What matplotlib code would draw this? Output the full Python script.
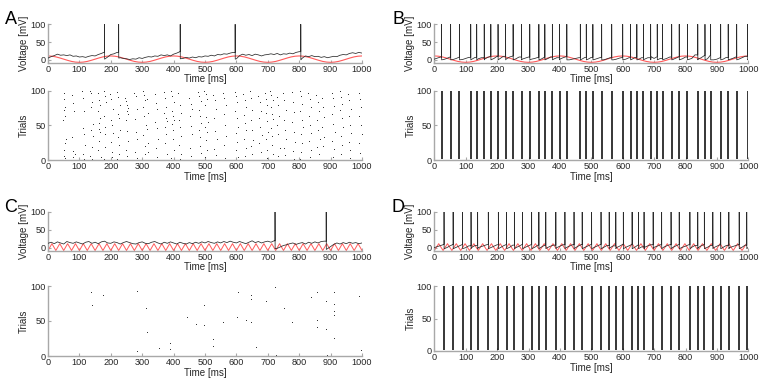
import numpy as np
import matplotlib
matplotlib.use("Agg")
import matplotlib.pyplot as plt

plt.rcParams['font.family'] = ['Liberation Sans', 'DejaVu Sans']

# ---------------- data ----------------
t_base = list(range(0, 1001, 10))          # ms, sampling of sub-threshold traces

A_v = [5, 9, 12, 16, 13, 14, 12, 14, 10, 11, 8, 9, 7, 10, 12, 11, 15, 18, 22, 8,
       15, 17, 21, 6, 4, 3, 1, 3, 2, 6, 4, 7, 9, 8, 11, 10, 14, 12, 14, 11,
       16, 19, 23, 4, 7, 5, 8, 6, 9, 8, 11, 10, 13, 11, 15, 14, 17, 16, 19, 21,
       3, 12, 16, 13, 15, 12, 16, 14, 11, 14, 15, 17, 15, 18, 14, 17, 16, 19, 17, 21,
       23, 5, 11, 9, 12, 9, 10, 7, 9, 6, 8, 10, 9, 13, 15, 14, 18, 20, 18, 21, 19]
A_spikes = [180, 225, 421, 596, 805]
A_reset = [2, 5, 3, 2, 0]

B_v = [2, 5, 8, 1, 4, 8, 1, 4, 8, 1, 4, 7, 2, 7, 3, 6, 2, 7, 10, 4,
       10, 4, 10, 3, 8, 11, 3, 8, 2, 5, 8, 2, 4, 7, 2, 7, 3, 8, 2, 6,
       2, 6, 9, 0, 2, 4, 6, 2, 7, 2, 7, 1, 4, 7, 0, 3, 6, 0, 2, 5,
       7, 2, 6, 2, 7, 1, 6, 2, 6, 9, 4, 9, 4, 1, 4, 8, 1, 5, 9, 3,
       8, 1, 4, 14, 2, 6, 12, 3, 14, 0, 2, 6, 2, 7, 1, 4, 8, 2, 6, 10, 3]
B_spikes = [23, 52, 80, 116, 135, 159, 180, 203, 227, 251, 278, 304, 333, 352, 376,
            399, 422, 465, 484, 505, 533, 565, 600, 625, 645, 666, 689, 710, 727,
            756, 780, 806, 839, 862, 880, 912, 936, 963, 998]

C_v = [12, 15, 11, 16, 13, 10, 17, 14, 12, 16, 13, 10, 15, 17, 12, 15, 11, 16, 18, 13,
       12, 16, 14, 10, 14, 17, 14, 11, 10, 14, 16, 12, 11, 15, 17, 13, 10, 15, 12, 16,
       13, 10, 15, 12, 10, 14, 11, 15, 12, 16, 13, 17, 14, 12, 16, 13, 17, 14, 18, 15,
       13, 17, 14, 11, 15, 19, 14, 17, 13, 16, 18, 15, 19, -2, 2, 6, 8, 11, 13, 9,
       12, 14, 10, 15, 12, 16, 13, 17, 18, -3, 3, 9, 13, 10, 14, 11, 15, 12, 14, 11, 13]
C_spikes = [723, 886]
C_reset = [-3, -5]

D_v = [0, 3, 6, 9, 0, 5, 9, 1, 5, 9, 0, 5, 1, 6, 0, 3, 6, 9, 0, 4,
       8, 0, 5, 9, 1, 7, 0, 4, 9, 1, 5, 9, 1, 7, 1, 6, 0, 4, 7, 0,
       4, 8, 0, 4, 8, 0, 5, 9, 1, 5, 9, 1, 5, 9, 1, 6, 0, 5, 0, 4,
       9, 1, 5, 9, 2, 8, 2, 1, 5, 8, 1, 4, 8, 1, 5, 8, 1, 5, 9, 1,
       4, 8, 1, 6, 0, 5, 9, 1, 6, 0, 4, 8, 1, 6, 0, 3, 6, 9, 1, 7, 1]
D_spikes = [31, 60, 90, 117, 138, 172, 204, 230, 255, 281, 310, 333, 355, 387, 416,
            445, 471, 501, 531, 557, 578, 602, 630, 650, 668, 697, 724, 754, 780,
            814, 839, 860, 887, 912, 938, 971, 995]

t_stim = [i * 12.5 for i in range(81)]      # ms, sampling of stimulus traces
stim_slow = [11, 10.3, 8.4, 5.4, 2, -1.4, -4.4, -6.3, -7, -6.3, -4.4, -1.4, 2, 5.4, 8.4, 10.3,
             11, 10.3, 8.4, 5.4, 2, -1.4, -4.4, -6.3, -7, -6.3, -4.4, -1.4, 2, 5.4, 8.4, 10.3,
             11, 10.3, 8.4, 5.4, 2, -1.4, -4.4, -6.3, -7, -6.3, -4.4, -1.4, 2, 5.4, 8.4, 10.3,
             11, 10.3, 8.4, 5.4, 2, -1.4, -4.4, -6.3, -7, -6.3, -4.4, -1.4, 2, 5.4, 8.4, 10.3,
             11, 10.3, 8.4, 5.4, 2, -1.4, -4.4, -6.3, -7, -6.3, -4.4, -1.4, 2, 5.4, 8.4, 10.3,
             11]
stim_fast = [-8, 11, -8, 11, -8, 11, -8, 11, -8, 11, -8, 11, -8, 11, -8, 11, -8, 11, -8, 11,
             -8, 11, -8, 11, -8, 11, -8, 11, -8, 11, -8, 11, -8, 11, -8, 11, -8, 11, -8, 11,
             -8, 11, -8, 11, -8, 11, -8, 11, -8, 11, -8, 11, -8, 11, -8, 11, -8, 11, -8, 11,
             -8, 11, -8, 11, -8, 11, -8, 11, -8, 11, -8, 11, -8, 11, -8, 11, -8, 11, -8, 11,
             -8]
t_stim_D = [i * 14 for i in range(72)]
stim_D = [-8, 11, -8, 11, -8, 11, -8, 11, -8, 11, -8, 11, -8, 11, -8, 11, -8, 11, -8, 11,
          -8, 11, -8, 11, -8, 11, -8, 11, -8, 11, -8, 11, -8, 11, -8, 11, -8, 11, -8, 11,
          -8, 11, -8, 11, -8, 11, -8, 11, -8, 11, -8, 11, -8, 11, -8, 11, -8, 11, -8, 11,
          -8, 11, -8, 11, -8, 11, -8, 11, -8, 11, -8, 11]

# raster A: spike times (ms) and trial numbers, grouped by column of the picture
A_rt = [
    50, 52, 55, 51, 54, 49, 56, 53, 52, 50, 55,
    76, 80, 83, 78, 81, 85, 79,
    108, 112, 116, 110, 114, 118, 111, 115,
    133, 137, 141, 138, 144, 136, 142, 139, 135, 140,
    158, 162, 165, 160, 167, 163, 161, 166, 164, 159, 168,
    177, 181, 184, 179, 183, 180, 182, 178,
    198, 202, 206, 200, 204, 207, 201, 205, 203,
    220, 224, 228, 222, 226, 230, 223, 227, 225, 221,
    246, 249, 252, 255, 250, 254, 248, 253, 256, 247, 251,
    275, 279, 283, 277, 281, 285, 278, 282,
    301, 305, 309, 303, 307, 311, 304, 308, 310,
    314, 318, 316, 320, 317,
    340, 344, 348, 342, 346, 350, 343, 347,
    369, 373, 377, 371, 375, 379, 372, 376, 374, 378,
    392, 396, 400, 394, 398, 402, 395, 399, 397, 401, 393,
    415, 419, 423, 417, 421, 425, 418, 422, 420,
    450, 454, 458, 452, 456, 460, 453, 457,
    478, 482, 486, 480, 484, 488, 481, 485, 483, 487,
    498, 502, 506, 500, 504, 508, 501, 505, 503, 507, 499,
    527, 531, 535, 529, 533, 537, 530, 534,
    558, 562, 566, 560, 564, 568, 561, 565,
    595, 599, 603, 597, 601, 605, 598, 602, 600, 604,
    622, 626, 630, 624, 628, 632, 625, 629, 627,
    643, 647, 651, 645, 649, 653, 646, 650,
    670, 674, 678, 672, 676, 680, 673, 677,
    691, 695, 699, 693, 697, 701, 694, 698, 696,
    707, 711, 715, 709, 713, 717, 710, 714, 712, 716,
    728, 732, 736, 730, 734, 738, 731,
    749, 753, 757, 751, 755, 759, 752, 756,
    776, 780, 784, 778, 782, 786, 779, 783,
    802, 806, 810, 804, 808, 812, 805, 809, 807, 803,
    829, 833, 837, 831, 835, 839, 832, 836, 834,
    855, 859, 863, 857, 861, 865, 858, 862,
    872, 876, 880, 874, 878, 875,
    903, 907, 911, 905, 909, 913, 906, 910, 908,
    929, 933, 937, 931, 935, 939, 932, 936, 934,
    956, 960, 964, 958, 962, 966, 959, 963, 961,
    990, 994, 998, 992, 996, 999, 991, 995]
A_rn = [
    96, 88, 77, 72, 63, 58, 31, 25, 14, 6, 3,
    94, 82, 70, 33, 13, 8, 4,
    99, 90, 71, 46, 38, 22, 9, 2,
    100, 96, 84, 76, 52, 43, 35, 19, 6, 1,
    97, 86, 79, 70, 60, 53, 45, 41, 27, 14, 5,
    99, 93, 83, 64, 48, 37, 19, 2,
    95, 88, 74, 57, 50, 39, 26, 11, 4,
    98, 91, 80, 67, 60, 44, 33, 21, 9, 1,
    89, 85, 80, 75, 70, 66, 58, 42, 27, 15, 6,
    97, 92, 74, 59, 40, 30, 12, 3,
    99, 94, 86, 77, 63, 51, 36, 20, 8,
    88, 68, 45, 25, 12,
    95, 82, 73, 55, 46, 31, 17, 5,
    98, 90, 77, 68, 60, 56, 48, 38, 24, 9,
    99, 93, 84, 71, 63, 58, 52, 43, 30, 14, 3,
    96, 80, 68, 57, 47, 35, 22, 8, 1,
    89, 81, 74, 63, 49, 37, 18, 6,
    98, 92, 85, 72, 64, 53, 44, 33, 20, 10,
    100, 95, 88, 79, 62, 55, 47, 40, 29, 15, 5,
    94, 86, 73, 61, 42, 30, 16, 7,
    97, 90, 79, 66, 50, 35, 21, 3,
    98, 93, 84, 71, 60, 48, 39, 26, 14, 4,
    95, 87, 76, 65, 54, 43, 30, 17, 6,
    99, 89, 72, 58, 44, 29, 20, 9,
    93, 84, 70, 61, 47, 36, 25, 12,
    97, 88, 79, 68, 56, 41, 31, 15, 3,
    100, 94, 86, 77, 67, 59, 46, 34, 22, 8,
    91, 80, 64, 50, 37, 18, 6,
    96, 87, 72, 58, 44, 30, 17, 7,
    98, 83, 69, 55, 40, 26, 13, 2,
    99, 92, 81, 70, 58, 47, 37, 24, 12, 1,
    96, 88, 76, 64, 51, 39, 28, 15, 4,
    94, 83, 71, 57, 43, 31, 19, 8,
    90, 77, 62, 47, 33, 20,
    97, 89, 78, 66, 52, 40, 28, 16, 5,
    99, 91, 81, 72, 60, 48, 35, 22, 9,
    95, 86, 74, 63, 50, 39, 26, 14, 3,
    97, 88, 76, 64, 51, 38, 24, 10]

# raster C: (time ms, trial)
C_rt = [138, 140, 174, 282, 283, 311, 315, 354, 387, 387, 444, 470, 498, 497, 527, 527,
        556, 603, 606, 629, 646, 646, 645, 664, 694, 722, 725, 752, 778, 836, 857, 858,
        858, 885, 884, 889, 911, 911, 911, 911, 911, 992, 996]
C_rn = [91, 73, 87, 93, 7, 69, 35, 12, 19, 9.5, 56, 46, 73, 44, 24, 14,
        48, 56, 92, 52, 87, 81, 49, 13, 78, 99, 1, 69, 48, 85, 91, 51,
        41, 79, 38, 1, 92, 75, 65, 59, 26, 86, 9]

n_trials = 100

x_ticks = [0, 100, 200, 300, 400, 500, 600, 700, 800, 900, 1000]
y_ticks = [0, 50, 100]

# ---------------- drawing ----------------
W, H = 782, 384
fig = plt.figure(figsize=(W / 100, H / 100), dpi=100)

AX_GREY = '#a8a8a8'
TXT = '#262626'
FS = 6.6


def ax_at(x0, y_top, x1, y_bot):
    return fig.add_axes([x0 / W, 1 - y_bot / H, (x1 - x0) / W, (y_bot - y_top) / H])


def style(ax, ylabel, ylim):
    ax.set_xlim(0, 1000)
    ax.set_ylim(*ylim)
    ax.set_xticks(x_ticks)
    ax.set_yticks(y_ticks)
    for s in ['top', 'right']:
        ax.spines[s].set_visible(False)
    for s in ['left', 'bottom']:
        ax.spines[s].set_color(AX_GREY)
        ax.spines[s].set_linewidth(1.0)
    ax.tick_params(direction='in', length=2.5, width=0.8, colors=AX_GREY,
                   labelcolor=TXT, labelsize=FS, pad=1.5)
    ax.set_xlabel('Time [ms]', fontsize=FS + 0.4, color=TXT, labelpad=0.5)
    ax.set_ylabel(ylabel, fontsize=FS + 0.4, color=TXT, labelpad=1)
    ax.patch.set_alpha(0)


def trace(ax, v, spikes, resets):
    pts = list(zip(t_base, v))
    for k, ts in enumerate(spikes):
        # hold the last sampled value up to the spike, then jump vertically
        prev = [p for p in zip(t_base, v) if p[0] <= ts][-1][1]
        pts.append((ts, prev))
        pts.append((ts + 0.01, 100))
        pts.append((ts + 0.3, resets[k]))
    pts.sort(key=lambda p: p[0])
    tt = [p[0] for p in pts]
    vv = [p[1] for p in pts]
    ax.plot(tt, vv, color='#2a2a2a', lw=0.55, zorder=3)


VLIM = (-8, 100)
RED = '#ff5a5a'
DOT_MS = 1.45

# A
axA = ax_at(48, 24.3, 362, 62.7)
axA.plot(t_stim, stim_slow, color=RED, lw=0.8, zorder=2)
trace(axA, A_v, A_spikes, A_reset)
style(axA, 'Voltage [mV]', VLIM)

axAr = ax_at(48, 90.7, 362, 160)
axAr.plot(A_rt, A_rn, 'k.', ms=DOT_MS, mew=0)
style(axAr, 'Trials', (0, 100))

# B
axB = ax_at(434.3, 24.3, 748.3, 62.7)
axB.plot(t_stim, stim_slow, color=RED, lw=0.8, zorder=2)
trace(axB, B_v, B_spikes, [0] * len(B_spikes))
style(axB, 'Voltage [mV]', VLIM)

axBr = ax_at(434.3, 90.7, 748.3, 160)
axBr.vlines(B_spikes, 1, n_trials, color='black', lw=1.1)
style(axBr, 'Trials', (0, 100))

# C
axC = ax_at(48, 211.7, 362, 250.5)
axC.plot(t_stim, stim_fast, color=RED, lw=0.7, zorder=2)
trace(axC, C_v, C_spikes, C_reset)
style(axC, 'Voltage [mV]', VLIM)

axCr = ax_at(48, 286, 362, 356)
axCr.plot(C_rt, C_rn, 'k.', ms=DOT_MS, mew=0)
style(axCr, 'Trials', (0, 100))

# D
axD = ax_at(434.3, 211.7, 748.3, 250.5)
axD.plot(t_stim_D, stim_D, color=RED, lw=0.7, zorder=2)
trace(axD, D_v, D_spikes, [-3] * len(D_spikes))
style(axD, 'Voltage [mV]', VLIM)

axDr = ax_at(434.3, 286, 748.3, 351)
axDr.vlines(D_spikes, 1, n_trials, color='black', lw=1.1)
style(axDr, 'Trials', (0, 100))

for letter, x, y in [('A', 11, 20), ('B', 398, 20), ('C', 11, 207), ('D', 398, 207)]:
    fig.text(x / W, 1 - y / H, letter, fontsize=13, ha='center', va='center', color='black')

fig.savefig('out.png', dpi=100)
